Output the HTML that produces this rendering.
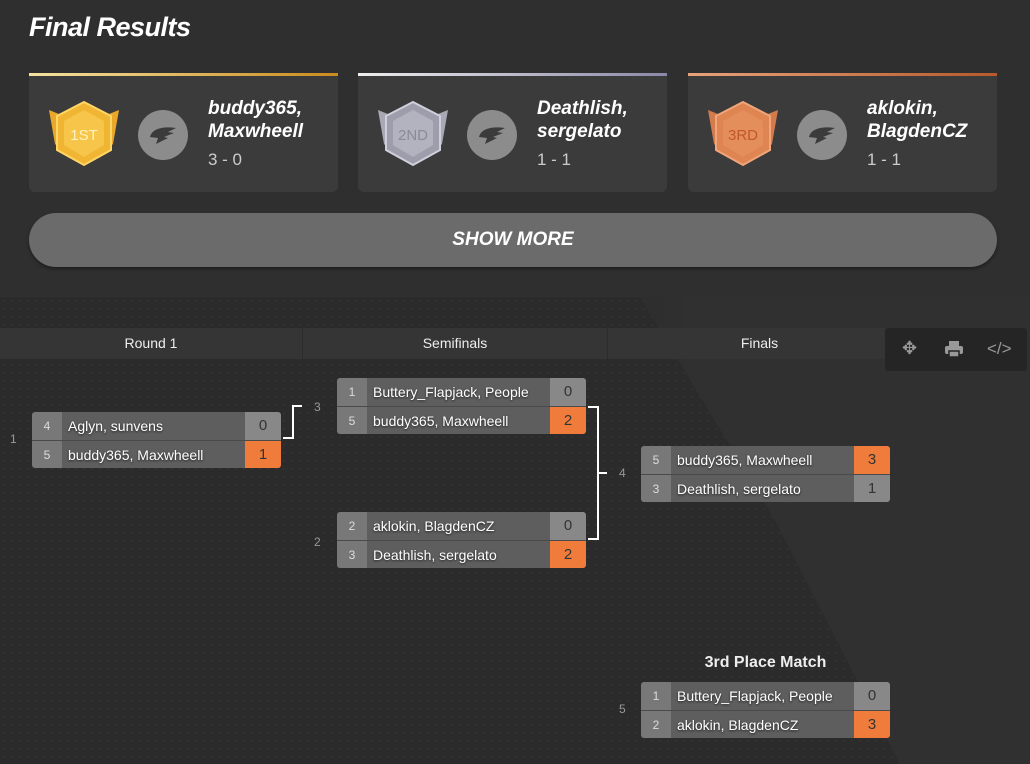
<!DOCTYPE html>
<html><head><meta charset="utf-8"><style>
*{margin:0;padding:0;box-sizing:border-box}
body{width:1030px;height:764px;overflow:hidden;background:#2f2f2f;font-family:"Liberation Sans",sans-serif;position:relative;color:#fff}
.abs{position:absolute}
h1{position:absolute;left:29px;top:12px;font-size:27px;font-weight:bold;font-style:italic;letter-spacing:-0.5px}
.card{position:absolute;top:73px;width:309px;height:119px;background:#3b3b3b;border-radius:0 0 6px 6px}
.card .bar{position:absolute;left:0;top:0;width:100%;height:3px}
.card .av{position:absolute;left:109px;top:37px;width:50px;height:50px;border-radius:50%;background:#8c8c8c}
.card .nm{position:absolute;left:179px;top:24px;font-size:19px;font-weight:bold;font-style:italic;line-height:23px}
.card .sc{position:absolute;left:179px;top:77px;font-size:17px;color:#ccc}
.btn{position:absolute;left:29px;top:213px;width:968px;height:54px;border-radius:27px;background:#6b6b6b;text-align:center;line-height:54px;font-size:19px;font-weight:bold;font-style:italic;box-shadow:0 2px 3px rgba(0,0,0,.4)}
.br{position:absolute;left:0;top:297px;width:1030px;height:467px;background-color:#2b2b2b;background-image:radial-gradient(#353535 0.7px,transparent 1px);background-size:8px 8px}
.hdr{position:absolute;top:328px;height:31px;background:#353535;text-align:center;line-height:31px;font-size:14px;color:#eee;border-right:1px solid #2c2c2c}
.m{position:absolute;width:249px;height:56px;border-radius:3px;overflow:hidden;font-size:14px}
.r{display:flex;height:28px;line-height:28px}
.r+.r{border-top:1px solid #4a4a4a;height:28px}
.s{width:30px;background:#787878;text-align:center;color:#ddd;font-size:12px}
.n{width:183px;background:#5e5e5e;padding-left:6px;white-space:nowrap;overflow:hidden;text-shadow:0 1px 2px #222}
.p{width:36px;background:#888;text-align:center;color:#333;font-size:15px}
.p.w{background:#f07c3c}
.num{position:absolute;font-size:12px;color:#999}
.ln{position:absolute;background:#fff}
</style></head><body>
<h1>Final Results</h1>

<div class="card" style="left:29px"><div class="bar" style="background:linear-gradient(90deg,#f6e3a0,#c98b1e)"></div>
<svg class="abs" style="left:18px;top:25px" width="74" height="72" viewBox="0 0 74 72"><path d="M2 12 L22 20 L22 60 L8 46Z M72 12 L52 20 L52 60 L66 46Z" fill="#e9a82a"/><polygon points="37,4 64,18 64,52 37,67 10,52 10,18" fill="#f0b533" stroke="#ffd566" stroke-width="2"/><polygon points="37,12 57,23 57,47 37,59 17,47 17,23" fill="#f6c54a"/><text x="37" y="42" font-size="15" text-anchor="middle" fill="#fff3c0" font-family="Liberation Sans">1ST</text></svg>
<div class="av"></div><svg class="abs" style="left:119px;top:52px" width="30" height="20"><path d="M2 12 C4 4 14 1 28 3 L20 7 L26 8 L16 12 L20 13 L8 19 L10 13Z" fill="#3b3b3b"/></svg><div class="nm">buddy365,<br>Maxwheell</div><div class="sc">3 - 0</div></div>

<div class="card" style="left:358px"><div class="bar" style="background:linear-gradient(90deg,#eee,#8a88a8)"></div>
<svg class="abs" style="left:18px;top:25px" width="74" height="72" viewBox="0 0 74 72"><path d="M2 12 L22 20 L22 60 L8 46Z M72 12 L52 20 L52 60 L66 46Z" fill="#a9a9b6"/><polygon points="37,4 64,18 64,52 37,67 10,52 10,18" fill="#9d9dac" stroke="#cfcfdc" stroke-width="2"/><polygon points="37,12 57,23 57,47 37,59 17,47 17,23" fill="#b3b3c0"/><text x="37" y="42" font-size="15" text-anchor="middle" fill="#8a8a98" font-family="Liberation Sans">2ND</text></svg>
<div class="av"></div><svg class="abs" style="left:119px;top:52px" width="30" height="20"><path d="M2 12 C4 4 14 1 28 3 L20 7 L26 8 L16 12 L20 13 L8 19 L10 13Z" fill="#3b3b3b"/></svg><div class="nm">Deathlish,<br>sergelato</div><div class="sc">1 - 1</div></div>

<div class="card" style="left:688px"><div class="bar" style="background:linear-gradient(90deg,#e8a27a,#b55a2c)"></div>
<svg class="abs" style="left:18px;top:25px" width="74" height="72" viewBox="0 0 74 72"><path d="M2 12 L22 20 L22 60 L8 46Z M72 12 L52 20 L52 60 L66 46Z" fill="#d27b4c"/><polygon points="37,4 64,18 64,52 37,67 10,52 10,18" fill="#de8552" stroke="#f0a57a" stroke-width="2"/><polygon points="37,12 57,23 57,47 37,59 17,47 17,23" fill="#e48e5c"/><text x="37" y="42" font-size="15" text-anchor="middle" fill="#c2582a" font-family="Liberation Sans">3RD</text></svg>
<div class="av"></div><svg class="abs" style="left:119px;top:52px" width="30" height="20"><path d="M2 12 C4 4 14 1 28 3 L20 7 L26 8 L16 12 L20 13 L8 19 L10 13Z" fill="#3b3b3b"/></svg><div class="nm">aklokin,<br>BlagdenCZ</div><div class="sc">1 - 1</div></div>

<div class="btn">SHOW MORE</div>

<div class="br"></div>
<svg class="abs" style="left:0;top:0" width="1030" height="764"><defs><linearGradient id="g" x1="0" y1="0" x2="1" y2="0"><stop offset="0" stop-color="#2f2f2f" stop-opacity="0.7"/><stop offset="0.15" stop-color="#303030"/></linearGradient></defs><polygon points="640,297 1030,297 1030,764 900,764 775,520" fill="url(#g)"/></svg>

<div class="hdr" style="left:0;width:303px">Round 1</div>
<div class="hdr" style="left:303px;width:305px">Semifinals</div>
<div class="hdr" style="left:608px;width:304px">Finals</div>
<div class="abs" style="left:885px;top:328px;width:142px;height:43px;background:#252525;border-radius:3px;color:#999;font-size:18px">
<span class="abs" style="left:17px;top:10px">✥</span>
<svg class="abs" style="left:60px;top:13px" width="18" height="17"><rect x="4" y="0" width="10" height="5" fill="#999"/><rect x="0" y="5" width="18" height="8" rx="2" fill="#999"/><rect x="4" y="10" width="10" height="6" fill="#999" stroke="#252525" stroke-width="1.5"/></svg>
<span class="abs" style="left:102px;top:11px;font-size:17px">&lt;/&gt;</span></div>

<div class="num" style="left:10px;top:432px">1</div>
<div class="num" style="left:314px;top:400px">3</div>
<div class="num" style="left:314px;top:535px">2</div>
<div class="num" style="left:619px;top:466px">4</div>
<div class="num" style="left:619px;top:702px">5</div>

<div class="m" style="left:32px;top:412px"><div class="r"><div class="s">4</div><div class="n">Aglyn, sunvens</div><div class="p">0</div></div><div class="r"><div class="s">5</div><div class="n">buddy365, Maxwheell</div><div class="p w">1</div></div></div>
<div class="m" style="left:337px;top:378px"><div class="r"><div class="s">1</div><div class="n">Buttery_Flapjack, People</div><div class="p">0</div></div><div class="r"><div class="s">5</div><div class="n">buddy365, Maxwheell</div><div class="p w">2</div></div></div>
<div class="m" style="left:337px;top:512px"><div class="r"><div class="s">2</div><div class="n">aklokin, BlagdenCZ</div><div class="p">0</div></div><div class="r"><div class="s">3</div><div class="n">Deathlish, sergelato</div><div class="p w">2</div></div></div>
<div class="m" style="left:641px;top:446px"><div class="r"><div class="s">5</div><div class="n">buddy365, Maxwheell</div><div class="p w">3</div></div><div class="r"><div class="s">3</div><div class="n">Deathlish, sergelato</div><div class="p">1</div></div></div>
<div class="abs" style="left:641px;top:654px;width:249px;text-align:center;font-size:16px;font-weight:bold;color:#eee">3rd Place Match</div>
<div class="m" style="left:641px;top:682px"><div class="r"><div class="s">1</div><div class="n">Buttery_Flapjack, People</div><div class="p">0</div></div><div class="r"><div class="s">2</div><div class="n">aklokin, BlagdenCZ</div><div class="p w">3</div></div></div>

<div class="ln" style="left:283px;top:437px;width:11px;height:2px"></div>
<div class="ln" style="left:292px;top:405px;width:2px;height:34px"></div>
<div class="ln" style="left:292px;top:405px;width:10px;height:2px"></div>
<div class="ln" style="left:588px;top:406px;width:11px;height:2px"></div>
<div class="ln" style="left:597px;top:406px;width:2px;height:134px"></div>
<div class="ln" style="left:588px;top:538px;width:11px;height:2px"></div>
<div class="ln" style="left:597px;top:472px;width:10px;height:2px"></div>
</body></html>
